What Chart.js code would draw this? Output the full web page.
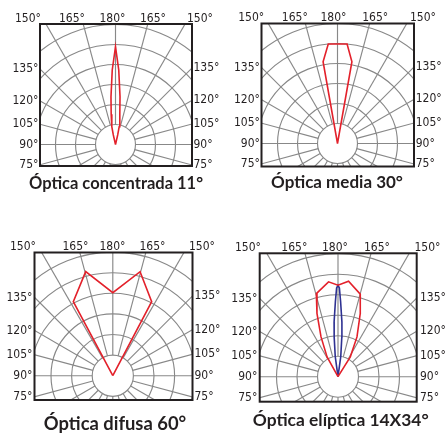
<!DOCTYPE html>
<html>
<head>
<meta charset="utf-8">
<script src="https://cdn.jsdelivr.net/npm/chart.js@4.4.0/dist/chart.umd.min.js"></script>
<style>
  html, body { margin: 0; padding: 0; background: #fff; }
  #wrap { position: relative; width: 447px; height: 435px; overflow: hidden; }
  canvas { position: absolute; }
</style>
</head>
<body>
<div id="wrap">
  <canvas id="c1" width="224" height="200" style="left:0;top:0"></canvas>
  <canvas id="c2" width="223" height="200" style="left:224px;top:0"></canvas>
  <canvas id="c3" width="224" height="235" style="left:0;top:200px"></canvas>
  <canvas id="c4" width="223" height="235" style="left:224px;top:200px"></canvas>
</div>
<script>
// tick labels
const topTickLabels = ['150°', '165°', '180°', '165°', '150°'];
const sideTickLabels = ['135°', '120°', '105°', '90°', '75°'];
const titles = ['Óptica concentrada 11°', 'Óptica media 30°', 'Óptica difusa 60°', 'Óptica elíptica 14X34°'];

// polar curves: angle in degrees (180 = straight up), intensity in ring units
const concAngles = [166, 167, 168.3, 171.9, 174.6, 177.5, 180, 182.5, 185.4, 188.1, 191.7, 193, 194];
const concValues = [0, 0.49, 0.91, 1.53, 2.4, 3.73, 4.89, 3.73, 2.4, 1.53, 0.91, 0.49, 0];

const mediaAngles = [170, 170, 174.5, 185.3, 190, 190];
const mediaValues = [0, 4.15, 5.0, 5.0, 4.15, 0];

const difusaAngles = [152.3, 152.3, 165.3, 180, 194.6, 208.1, 208.1];
const difusaValues = [0, 4.06, 5.22, 4.03, 5.22, 4.07, 0];

const elipWideAngles = [148.2, 148.2, 154.5, 160.6, 164.9, 173.7, 180, 185.7, 194.6, 198.4, 203.1, 209, 209];
const elipWideValues = [0, 1.14, 2.15, 3.27, 4.17, 4.69, 4.46, 4.65, 4.19, 3.25, 2.11, 1.1, 0];

const elipNarrowAngles = [171, 172.2, 174.5, 175.9, 178, 179.1, 180, 180.9, 182, 184.1, 185.5, 187.8, 189];
const elipNarrowValues = [0, 0.99, 1.95, 2.67, 3.66, 4.33, 4.46, 4.33, 3.66, 2.67, 1.95, 0.99, 0];

const ringSteps = [1, 2, 3, 4, 5, 6];
const spokeStep = 15;

const INK = '#231f20';
const GRID = '#888888';
const RED = '#e3212b';
const BLUE = '#2e3192';

function toXY(angles, values) {
  return angles.map((a, i) => {
    const t = a * Math.PI / 180;
    return { x: values[i] * Math.sin(t), y: -values[i] * Math.cos(t) };
  });
}

const polarPlot = {
  id: 'polarPlot',
  beforeDatasetsDraw(chart) {
    const { ctx, chartArea: a } = chart;
    const sx = chart.scales.x, sy = chart.scales.y;
    const cx = sx.getPixelForValue(0), cy = sy.getPixelForValue(0);
    const u = sx.getPixelForValue(1) - cx;
    ctx.save();
    ctx.beginPath();
    ctx.rect(a.left, a.top, a.right - a.left, a.bottom - a.top);
    ctx.clip();
    ctx.strokeStyle = GRID;
    ctx.lineWidth = 1.15;
    ringSteps.forEach(r => {
      ctx.beginPath();
      ctx.arc(cx, cy, r * u, 0, Math.PI * 2);
      ctx.stroke();
    });
    for (let g = 0; g < 360; g += spokeStep) {
      const t = g * Math.PI / 180;
      ctx.beginPath();
      ctx.moveTo(cx + Math.sin(t) * u, cy + Math.cos(t) * u);
      ctx.lineTo(cx + Math.sin(t) * 10 * u, cy + Math.cos(t) * 10 * u);
      ctx.stroke();
    }
    ctx.restore();
  },
  afterDraw(chart, args, o) {
    const { ctx, chartArea: a } = chart;
    const cx = chart.scales.x.getPixelForValue(0), cy = chart.scales.y.getPixelForValue(0);
    ctx.save();
    ctx.strokeStyle = INK;
    ctx.lineWidth = 2;
    ctx.strokeRect(a.left, a.top, a.right - a.left, a.bottom - a.top);

    ctx.fillStyle = INK;
    ctx.font = '12px "Liberation Sans Narrow", "DejaVu Sans Condensed", sans-serif';
    ctx.textAlign = 'center';
    ctx.textBaseline = 'alphabetic';
    topTickLabels.forEach((t, i) => ctx.fillText(t, cx + o.topX[i], a.top - 2.5));

    ctx.textBaseline = 'middle';
    sideTickLabels.forEach(t => {
      const k = Math.tan((parseFloat(t) - 90) * Math.PI / 180);
      ctx.textAlign = 'right';
      ctx.fillText(t, a.left - o.sideGap[0], cy - (cx - a.left) * k);
      ctx.textAlign = 'left';
      ctx.fillText(t, a.right + o.sideGap[1], cy - (a.right - cx) * k);
    });

    ctx.font = 'bold ' + o.titleSize + 'px Lato, sans-serif';
    ctx.textAlign = 'center';
    ctx.textBaseline = 'alphabetic';
    ctx.fillText(o.title, o.titleX, o.titleY);
    ctx.restore();
  }
};

const panels = [
  { id: 'c1', box: [40, 24, 192, 166], center: [115.5, 144.5], unit: 20,
    title: titles[0], titleX: 116, titleY: 189, titleSize: 16.5,
    topX: [-87.5, -43.5, -3, 37.5, 84.5], sideGap: [1.5, 1.5],
    series: [{ angles: concAngles, values: concValues, color: RED }] },
  { id: 'c2', box: [37.5, 23.5, 190, 166.5], center: [113.5, 143.5], unit: 20,
    title: titles[1], titleX: 113, titleY: 187.7, titleSize: 17,
    topX: [-86.3, -42.7, -4, 37.7, 85.5], sideGap: [1.5, 1.7],
    series: [{ angles: mediaAngles, values: mediaValues, color: RED }] },
  { id: 'c3', box: [34.5, 52.5, 192.5, 200], center: [112.8, 175.7], unit: 20.6,
    title: titles[2], titleX: 115, titleY: 230, titleSize: 18.4,
    topX: [-89.8, -37.3, -0.3, 39.7, 89.2], sideGap: [2, 2],
    series: [{ angles: difusaAngles, values: difusaValues, color: RED }] },
  { id: 'c4', box: [35.7, 53.3, 192.7, 201.7], center: [114, 176.7], unit: 20.5,
    title: titles[3], titleX: 116.7, titleY: 226, titleSize: 17.4,
    topX: [-90, -43.7, -3, 39, 89.5], sideGap: [2.4, 3.3],
    series: [{ angles: elipWideAngles, values: elipWideValues, color: RED },
             { angles: elipNarrowAngles, values: elipNarrowValues, color: BLUE }] }
];

panels.forEach(p => {
  const canvas = document.getElementById(p.id);
  const [l, t, r, b] = p.box;
  const [cx, cy] = p.center;
  new Chart(canvas.getContext('2d'), {
    type: 'scatter',
    data: {
      datasets: p.series.map(s => ({
        data: toXY(s.angles, s.values),
        showLine: true,
        borderColor: s.color,
        borderWidth: 1.6,
        pointRadius: 0,
        tension: 0,
        fill: false
      }))
    },
    options: {
      responsive: false,
      animation: false,
      devicePixelRatio: 1,
      layout: { padding: { left: l, top: t, right: canvas.width - r, bottom: canvas.height - b } },
      scales: {
        x: { type: 'linear', display: false, min: (l - cx) / p.unit, max: (r - cx) / p.unit },
        y: { type: 'linear', display: false, min: (cy - b) / p.unit, max: (cy - t) / p.unit }
      },
      plugins: {
        legend: { display: false },
        tooltip: { enabled: false },
        polarPlot: p
      }
    },
    plugins: [polarPlot]
  });
});
</script>
</body>
</html>
